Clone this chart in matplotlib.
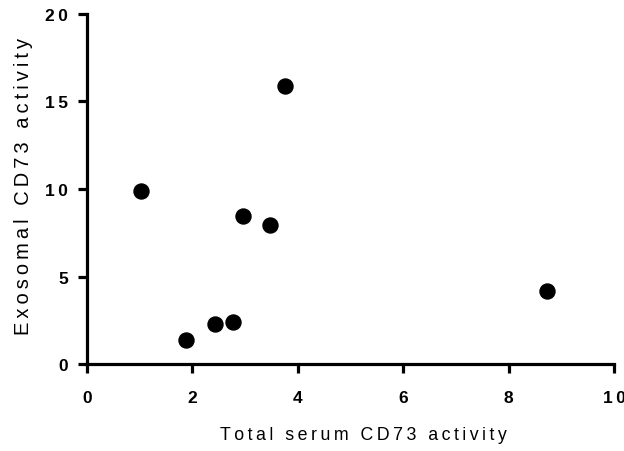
import matplotlib.pyplot as plt

plt.rcParams['font.family'] = ['Liberation Sans', 'DejaVu Sans']

# data
total_serum = [1.03, 1.88, 2.43, 2.77, 2.96, 3.47, 3.76, 8.73]
exosomal = [9.9, 1.41, 2.29, 2.42, 8.46, 7.94, 15.9, 4.19]
x_ticks = [0, 2, 4, 6, 8, 10]
y_ticks = [0, 5, 10, 15, 20]
x_label = 'Total serum CD73 activity'
y_label = 'Exosomal CD73 activity'


def spaced(s):
    # the original uses wide letter spacing; pad with thin spaces
    return '\u2009'.join(s)


fig = plt.figure(figsize=(6.24, 4.52), dpi=100)
ax = fig.add_axes([0.139, 0.192, 0.845, 0.775])

ax.plot(total_serum, exosomal, 'o', color='black', markersize=10.8, clip_on=False)

ax.set_xlim(0, 10)
ax.set_ylim(0, 20)
ax.set_xticks(x_ticks)
ax.set_yticks(y_ticks)
ax.set_xticklabels([spaced(str(t)) for t in x_ticks], fontweight='bold', fontsize=12.5)
ax.set_yticklabels([spaced(str(t)) for t in y_ticks], fontweight='bold', fontsize=12.5)

for side in ['top', 'right']:
    ax.spines[side].set_visible(False)
for side in ['left', 'bottom']:
    ax.spines[side].set_linewidth(2.3)
ax.tick_params(width=2.3, length=6.5)
ax.tick_params(axis='x', pad=12)
ax.tick_params(axis='y', pad=7)

ax.set_xlabel(spaced(x_label), fontsize=12.8)
ax.xaxis.set_label_coords(0.524, -0.175)
ax.set_ylabel(spaced(y_label), fontsize=14.5)
ax.yaxis.set_label_coords(-0.102, 0.51)

fig.savefig('out.png', dpi=100)
